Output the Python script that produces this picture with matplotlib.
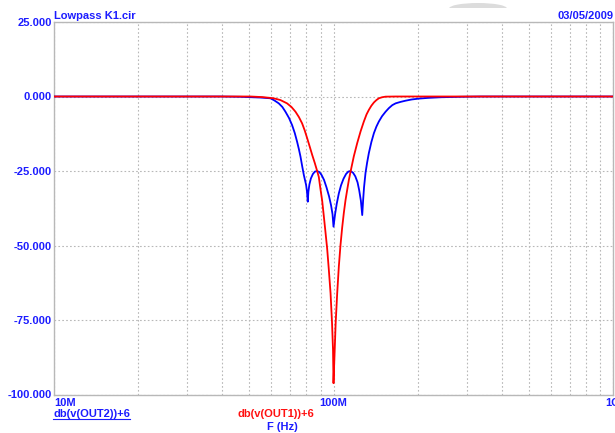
import numpy as np
import matplotlib
matplotlib.use("Agg")
import matplotlib.pyplot as plt
from matplotlib.patches import Ellipse, Rectangle

plt.rcParams['font.family'] = ['Liberation Sans', 'DejaVu Sans']

# frequency (MHz) / gain (dB) of the two outputs
f_out1 = [10, 30, 50.4, 55.7, 61.1, 64.6, 68.2, 70.7, 73.1, 75.2, 77.2, 78.9,
          80.5, 82.2, 83.9, 85.7, 87.4, 88.6, 89.8, 91.1, 92.3, 93.6, 94.9,
          96.2, 97.6, 98.8, 99.6, 100, 101.0, 101.8, 103.1, 104.5, 105.9,
          107.4, 108.9, 110.4, 112.0, 113.5, 115.1, 118.2, 121.6, 125.0,
          128.4, 131.3, 133.8, 136.6, 139.5, 142.4, 145.3, 149.2, 153.6,
          166.8, 400, 1000]
db_out1 = [0, 0, 0, -0.2, -0.6, -1.2, -2.3, -3.5, -5.1, -6.9, -9.0, -11.4,
           -14.0, -16.8, -19.6, -22.3, -25.0, -27.0, -31.0, -35.0, -40.0,
           -45.5, -51.0, -58.0, -66.0, -76.0, -85.0, -96.2, -85.0, -76.0,
           -66.0, -57.0, -50.0, -44.0, -39.0, -34.8, -31.2, -28.0, -25.2,
           -20.1, -15.6, -11.7, -8.4, -6.0, -4.5, -3.1, -2.0, -1.2, -0.6,
           -0.25, -0.05, 0, 0, 0]

f_out2 = [10, 39.4, 46.4, 54.8, 59.5, 61.4, 63.7, 65.6, 67.3, 69.3, 71.1,
          72.7, 74.1, 75.2, 76.2, 77.2, 78.3, 79.8, 80.4, 80.9, 81.3, 82.0,
          83.0, 84.4, 85.8, 87.4, 89.1, 90.6, 92.5, 94.4, 96.4, 98.0, 99.2,
          100, 101.3, 102.7, 104.5, 106.4, 108.6, 110.9, 113.0, 115.1, 117.5,
          119.7, 121.9, 123.6, 125.3, 126.7, 127.6, 128.6, 130.2, 131.9,
          133.8, 136.6, 139.5, 142.4, 145.3, 149.2, 153.6, 157.8, 162.3,
          166.8, 173.9, 181.2, 190.4, 202.2, 219.1, 241.8, 285.2, 336.4, 1000]
db_out2 = [0, 0, -0.1, -0.35, -0.6, -1.3, -2.3, -3.5, -5.1, -7.2, -9.6,
           -12.3, -15.2, -17.7, -20.2, -23.2, -26.3, -29.7, -32.0, -35.3,
           -32.0, -29.5, -27.5, -26.0, -25.2, -25.0, -25.4, -26.3, -28.0,
           -30.5, -33.5, -36.5, -39.5, -43.7, -39.5, -36.0, -32.5, -29.8,
           -27.6, -26.0, -25.2, -25.0, -25.6, -26.8, -28.8, -31.5, -35.0,
           -39.8, -35.0, -30.5, -25.6, -22.2, -19.0, -15.3, -12.3, -10.1,
           -8.4, -6.6, -5.1, -3.9, -2.9, -2.3, -1.8, -1.4, -1.0, -0.7,
           -0.45, -0.25, -0.1, 0, 0]

y_ticks = [25, 0, -25, -50, -75, -100]
x_ticks = [1e7, 1e8, 1e9]
x_labels = ['10M', '100M', '1G']

W, H = 615, 433
blue = '#1c1cff'
red = '#ff1010'
grey = '#b8b8b8'

fig = plt.figure(figsize=(W / 100, H / 100), dpi=100)
ax = fig.add_axes([54 / W, 1 - 394.5 / H, (613 - 54) / W, (394.5 - 22) / H])

ax.plot(np.array(f_out2) * 1e6, db_out2, color='#0000ff', lw=1.3, zorder=3)
ax.plot(np.array(f_out1) * 1e6, db_out1, color='#ff0000', lw=1.3, zorder=4)

ax.set_xscale('log')
ax.set_xlim(1e7, 1e9)
ax.set_ylim(-100, 25)

ax.set_yticks(y_ticks)
ax.set_yticklabels(['%.3f' % v for v in y_ticks])
ax.set_xticks(x_ticks)
ax.set_xticklabels(x_labels)
ax.xaxis.set_minor_locator(matplotlib.ticker.LogLocator(base=10, subs=np.arange(2, 10)))
ax.xaxis.set_minor_formatter(matplotlib.ticker.NullFormatter())
ax.tick_params(axis='both', which='both', length=0)
ax.tick_params(axis='y', pad=1.5)
ax.tick_params(axis='x', pad=2.5)
for lab in ax.get_xticklabels() + ax.get_yticklabels():
    lab.set_color(blue)
    lab.set_fontweight('bold')
    lab.set_fontsize(8)
ax.get_xticklabels()[0].set_horizontalalignment('left')

ax.grid(True, which='both', axis='x', color=grey, ls=(0, (1.5, 2)), lw=0.8)
ax.grid(True, which='major', axis='y', color=grey, ls=(0, (1.5, 2)), lw=0.8)
for s in ax.spines.values():
    s.set_color(grey)
    s.set_linewidth(1.0)

def px(x, y):
    return x / W, 1 - y / H

# faint dome at the top edge
fig.add_artist(Ellipse(px(478, 8.5), 58 / W, 11 / H, color='#dcdcdc', lw=0))
fig.add_artist(Rectangle(px(440, 20), 80 / W, 11.5 / H, color='white', lw=0))

fig.text(*px(54, 19), 'Lowpass K1.cir', color=blue, fontsize=8,
         fontweight='bold', ha='left', va='baseline')
fig.text(*px(613, 19), '03/05/2009', color=blue, fontsize=8,
         fontweight='bold', ha='right', va='baseline')

t = fig.text(*px(53, 417), 'db(v(OUT2))+6', color=blue, fontsize=8,
             fontweight='bold', ha='left', va='baseline')
fig.canvas.draw()
bb = t.get_window_extent()
fig.add_artist(plt.Line2D([bb.x0 / W, bb.x1 / W], [1 - 418.5 / H, 1 - 418.5 / H],
                          color=blue, lw=0.8))
fig.text(*px(237, 417), 'db(v(OUT1))+6', color=red, fontsize=8,
         fontweight='bold', ha='left', va='baseline')
fig.text(*px(282, 430), 'F (Hz)', color=blue, fontsize=8,
         fontweight='bold', ha='center', va='baseline')

fig.savefig('out.png', dpi=100, facecolor='white')
